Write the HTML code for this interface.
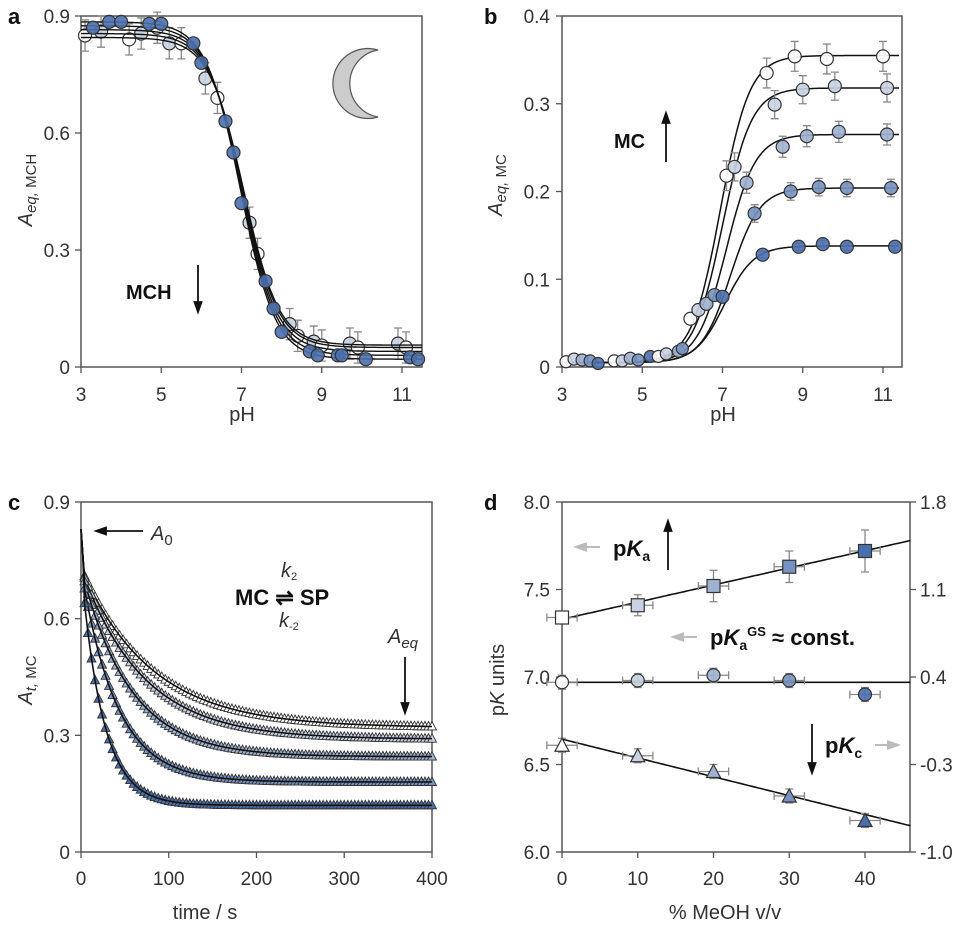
<!DOCTYPE html>
<html><head><meta charset="utf-8">
<style>
body{margin:0;background:#fff;}
svg{display:block;font-family:"Liberation Sans",sans-serif;}
.tk{font-size:19px;fill:#333;}
.lab{font-size:20px;fill:#333;}
.let{font-size:22px;font-weight:bold;fill:#111;}
.bold{font-weight:bold;fill:#111;}
</style></head>
<body>
<svg id="fig" width="968" height="925" viewBox="0 0 968 925"></svg>
<script>
// ---------- data ----------
// panel a
const aBlueX=[3.3,3.7,4.0,4.7,5.0,5.8,6.0,6.6,6.8,7.0,7.6,7.8,8.0,8.7,8.9,9.4,9.5,10.1,11.2,11.4];
const aBlueY=[0.87,0.885,0.885,0.88,0.88,0.83,0.78,0.63,0.55,0.42,0.22,0.15,0.09,0.04,0.03,0.03,0.03,0.02,0.025,0.02];
const aOpenX=[3.1,3.5,4.2,4.5,4.9,5.2,5.5,6.1,6.4,7.2,7.4,8.2,8.4,8.8,9.0,9.7,9.9,10.9,11.1];
const aOpenY=[0.85,0.86,0.84,0.855,0.87,0.83,0.83,0.74,0.69,0.37,0.29,0.11,0.08,0.065,0.055,0.06,0.05,0.06,0.05];
const aFitTop=[0.885,0.875,0.865,0.855,0.845];
const aFitBot=[0.02,0.03,0.04,0.05,0.056];
const aFitPka=[6.98,7.0,7.02,7.04,7.06];
// panel b
const bSeriesX=[[6.2,7.1,8.1,8.8,9.6,11.0],[6.4,7.3,8.3,9.0,9.8,11.1],[6.6,7.6,8.5,9.1,9.9,11.1],[6.8,7.8,8.7,9.4,10.1,11.2],[7.0,8.0,8.9,9.5,10.1,11.3]];
const bSeriesY=[[0.055,0.218,0.335,0.354,0.351,0.354],[0.065,0.228,0.299,0.316,0.32,0.318],[0.072,0.21,0.251,0.263,0.268,0.265],[0.082,0.175,0.2,0.205,0.204,0.204],[0.08,0.128,0.137,0.14,0.137,0.137]];
const bErr=[0.017,0.016,0.012,0.01,0.004];
const bLowX=[3.1,3.3,3.5,3.7,3.9,4.3,4.5,4.7,4.9,5.2,5.4,5.6,5.9,6.0];
const bLowY=[0.006,0.009,0.008,0.007,0.004,0.007,0.007,0.01,0.008,0.012,0.012,0.015,0.018,0.021];
const bFitTop=[0.355,0.318,0.265,0.204,0.138];
const bFitPka=[6.95,7.0,7.1,7.2,7.05];
// panel c
const cA0=[0.83,0.83,0.83,0.83,0.83];
const cAeq=[0.32,0.29,0.245,0.18,0.12];
const cTau=[80,70,55,40,25];
// panel d
const dX=[0,10,20,30,40];
const dPka=[7.34,7.41,7.52,7.63,7.72];
const dPkaErr=[0.03,0.06,0.09,0.09,0.12];
const dPkaGS=[6.97,6.98,7.01,6.98,6.90];
const dPkc=[6.61,6.55,6.46,6.32,6.18];
const dTicksL=["6.0","6.5","7.0","7.5","8.0"];
const dTicksR=["-1.0","-0.3","0.4","1.1","1.8"];

const cols=["#ffffff","#c8d2e2","#9db1d0","#7592c0","#4a6fad"];
const NS="http://www.w3.org/2000/svg";
const svg=document.getElementById('fig');
function el(tag,attrs,parent){const e=document.createElementNS(NS,tag);for(const k in attrs)e.setAttribute(k,attrs[k]);(parent||svg).appendChild(e);return e;}
function lin(d0,d1,r0,r1){return v=>r0+(v-d0)*(r1-r0)/(d1-d0);}

function frame(x0,y0,x1,y1,name){
  const r=el('rect',{x:x0,y:y0,width:x1-x0,height:y1-y0,fill:'none',stroke:'#555','stroke-width':1.5});
  
  
}
function tickText(x,y,t,anchor,name){
  const e=el('text',{x:x,y:y,'text-anchor':anchor,class:'tk'});e.textContent=t;
  
  
}
function tline(x1,y1,x2,y2,c,w,name){
  const l=el('line',{x1:x1,y1:y1,x2:x2,y2:y2,stroke:c,'stroke-width':w});
  
  
  return l;
}
function circ(x,y,r,fill,name){
  const c=el('circle',{cx:x,cy:y,r:r,fill:fill,stroke:'#333','stroke-width':1.2,'fill-opacity':0.9});
  
  
}
function errV(x,y0,y1,name){
  const g=el('path',{d:`M${x},${y0}V${y1}M${x-4},${y0}h8M${x-4},${y1}h8`,stroke:'#888','stroke-width':1.3,fill:'none'});
  
  
}
function errH(y,x0,x1,name){
  const g=el('path',{d:`M${x0},${y}H${x1}M${x0},${y-4}v8M${x1},${y-4}v8`,stroke:'#888','stroke-width':1.3,fill:'none'});
  
  
}
function curve(fn,x0,x1,sx,sy,name,w){
  let d='';for(let i=0;i<=200;i++){const v=x0+(x1-x0)*i/200;d+=(i?'L':'M')+sx(v).toFixed(1)+','+sy(fn(v)).toFixed(1);}
  const p=el('path',{d:d,fill:'none',stroke:'#111','stroke-width':w||1.6});
  
  
}
function txt(x,y,html,cls,size,anchor,name,extra){
  const e=el('text',Object.assign({x:x,y:y,'font-size':size,'text-anchor':anchor||'start',class:cls||''},extra||{}));e.innerHTML=html;
  
  
  return e;
}
function arrow(x1,y1,x2,y2,c,w,name){
  const dx=x2-x1,dy=y2-y1,L=Math.hypot(dx,dy),ux=dx/L,uy=dy/L;
  const hx=x2-ux*10,hy=y2-uy*10;
  const p=el('path',{d:`M${x1},${y1}L${hx},${hy}M${x2},${y2}L${hx-uy*3.5},${hy+ux*3.5}L${hx+uy*3.5},${hy-ux*3.5}Z`,stroke:c,'stroke-width':w,fill:c});
  
  
}

// ---------- panel a ----------
(function(){
  const sx=lin(3,11,81,402), sy=lin(0,0.9,367,16);
  frame(81,16,422,367,'panel-a-plot-area');
  [3,5,7,9,11].forEach(v=>{tline(sx(v),367,sx(v),373,'#555',1.3,'x-tick-a');tickText(sx(v),401,String(v),'middle','x-tick-label-a');});
  [[0,'0'],[0.3,'0.3'],[0.6,'0.6'],[0.9,'0.9']].forEach(t=>{tline(75,sy(t[0]),81,sy(t[0]),'#555',1.3,'y-tick-a');tickText(70,sy(t[0])+7,t[1],'end','y-tick-label-a');});
  aOpenX.forEach((x,i)=>{errV(sx(x),sy(aOpenY[i]+0.04),sy(aOpenY[i]-0.04),'error-bar-a');});
  aOpenX.forEach((x,i)=>circ(sx(x),sy(aOpenY[i]),6.5,i%2?'#c8d2e2':'#ffffff','point-a-open'));
  aFitTop.forEach((t,k)=>curve(v=>aFitBot[k]+(t-aFitBot[k])/(1+Math.pow(10,1.0*(v-aFitPka[k]))),3,11.5,sx,sy,'fit-curve-a',1.4));
  aBlueX.forEach((x,i)=>circ(sx(x),sy(aBlueY[i]),6.5,'#4a6fad','point-a-blue'));
  const m=el('path',{d:'M378,50 A35,35 0 1,0 378,117 A34,34 0 0,1 378,50 Z',fill:'#cccccc',stroke:'#555','stroke-width':1.2});
  
  
  txt(126,299,'MCH','bold',20,'start','mch-label');
  arrow(198,265,198,312,'#111',1.8,'mch-down-arrow');
  txt(242,421,'pH','lab',21,'middle','x-axis-title-a');
  txt(8,24,'a','let',22,'start','panel-letter-a');
  txt(0,0,'<tspan font-style="italic">A</tspan><tspan font-size="15" dy="4" font-style="italic">eq,</tspan><tspan font-size="15"> MCH</tspan>','lab',23,'middle','y-axis-title-a',{transform:'translate(32,190) rotate(-90)'});
})();

// ---------- panel b ----------
(function(){
  const sx=lin(3,11,562,883), sy=lin(0,0.4,367,16);
  frame(562,16,902,367,'panel-b-plot-area');
  [3,5,7,9,11].forEach(v=>{tline(sx(v),367,sx(v),373,'#555',1.3,'x-tick-b');tickText(sx(v),401,String(v),'middle','x-tick-label-b');});
  [[0,'0'],[0.1,'0.1'],[0.2,'0.2'],[0.3,'0.3'],[0.4,'0.4']].forEach(t=>{tline(556,sy(t[0]),562,sy(t[0]),'#555',1.3,'y-tick-b');tickText(550,sy(t[0])+7,t[1],'end','y-tick-label-b');});
  bFitTop.forEach((t,k)=>curve(v=>0.005+(t-0.005)/(1+Math.pow(10,1.2*(bFitPka[k]-v))),3,11.4,sx,sy,'fit-curve-b',1.5));
  bSeriesX.forEach((xs,k)=>xs.forEach((x,i)=>{if(i>0)errV(sx(x),sy(bSeriesY[k][i]+bErr[k]),sy(bSeriesY[k][i]-bErr[k]),'error-bar-b');}));
  bLowX.forEach((x,i)=>circ(sx(x),sy(bLowY[i]),6,cols[i%5],'point-b-low'));
  bSeriesX.forEach((xs,k)=>xs.forEach((x,i)=>circ(sx(x),sy(bSeriesY[k][i]),6.5,cols[k],'point-b-series-'+(k+1))));
  txt(614,148,'MC','bold',20,'start','mc-label');
  arrow(666,162,666,113,'#111',1.8,'mc-up-arrow');
  txt(723,421,'pH','lab',21,'middle','x-axis-title-b');
  txt(484,24,'b','let',22,'start','panel-letter-b');
  txt(0,0,'<tspan font-style="italic">A</tspan><tspan font-size="15" dy="4" font-style="italic">eq,</tspan><tspan font-size="15"> MC</tspan>','lab',23,'middle','y-axis-title-b',{transform:'translate(502,185) rotate(-90)'});
})();

// ---------- panel c ----------
(function(){
  const sx=lin(0,400,81,432), sy=lin(0,0.9,852,502);
  frame(81,502,432,852,'panel-c-plot-area');
  [0,100,200,300,400].forEach(v=>{tline(sx(v),852,sx(v),858,'#555',1.3,'x-tick-c');tickText(sx(v),885,String(v),'middle','x-tick-label-c');});
  [[0,'0'],[0.3,'0.3'],[0.6,'0.6'],[0.9,'0.9']].forEach(t=>{tline(75,sy(t[0]),81,sy(t[0]),'#555',1.3,'y-tick-c');tickText(70,sy(t[0])+7,t[1],'end','y-tick-label-c');});
  for(let k=0;k<5;k++){
    const f=t=>cAeq[k]+(cA0[k]-0.1-cAeq[k])*Math.exp(-t/cTau[k]);
    for(let t=4;t<=400;t+=4){
      const x=sx(t),y=sy(f(t));
      const p=el('path',{d:`M${x},${y-5}L${x+4.5},${y+3.5}L${x-4.5},${y+3.5}Z`,fill:cols[k],stroke:'#333','stroke-width':0.9});
      
      
    }
    curve(t=>t<3?cA0[k]-(0.1*t/3):f(t),0,400,sx,sy,'fit-curve-c',1.6);
  }
  arrow(143,531,96,531,'#111',1.8,'a0-arrow');
  txt(151,540,'<tspan font-style="italic">A</tspan><tspan font-size="15" dy="5">0</tspan>','lab',22,'start','a0-label');
  txt(235,605,'MC ⇌ SP','bold',22,'start','reaction-label');
  txt(281,577,'<tspan font-style="italic">k</tspan><tspan font-size="11" dy="3">2</tspan>','lab',16,'start','k2-label',{fill:'#555'});
  txt(279,627,'<tspan font-style="italic">k</tspan><tspan font-size="11" dy="3">-2</tspan>','lab',16,'start','k-minus-2-label',{fill:'#555'});
  txt(388,643,'<tspan font-style="italic">A</tspan><tspan font-size="15" dy="5" font-style="italic">eq</tspan>','lab',22,'start','aeq-label');
  arrow(405,657,405,713,'#111',1.8,'aeq-arrow');
  txt(205,919,'time / s','lab',21,'middle','x-axis-title-c');
  txt(8,510,'c','let',22,'start','panel-letter-c');
  txt(0,0,'<tspan font-style="italic">A</tspan><tspan font-size="15" dy="4" font-style="italic">t,</tspan><tspan font-size="15"> MC</tspan>','lab',23,'middle','y-axis-title-c',{transform:'translate(32,680) rotate(-90)'});
})();

// ---------- panel d ----------
(function(){
  const sx=lin(0,40,562,865), sy=lin(6,8,852,502);
  frame(562,502,910,852,'panel-d-plot-area');
  dX.forEach(v=>{tline(sx(v),852,sx(v),858,'#555',1.3,'x-tick-d');tickText(sx(v),885,String(v),'middle','x-tick-label-d');});
  dTicksL.forEach((t,i)=>{const y=sy(6+i*0.5);tline(556,y,562,y,'#555',1.3,'y-tick-left-d');tickText(550,y+7,t,'end','y-tick-label-left-d');});
  dTicksR.forEach((t,i)=>{const y=sy(6+i*0.5);tline(910,y,916,y,'#555',1.3,'y-tick-right-d');tickText(920,y+7,t,'start','y-tick-label-right-d');});
  curve(v=>7.33+v*(7.78-7.33)/46,0,46,sx,sy,'pka-fit-line',1.6);
  curve(v=>6.97,0,46,sx,sy,'pkags-fit-line',1.6);
  curve(v=>6.645+v*(6.15-6.645)/46,0,46,sx,sy,'pkc-fit-line',1.6);
  dX.forEach((x,i)=>{
    [dPka[i],dPkaGS[i],dPkc[i]].forEach((y,j)=>{errH(sy(y),sx(x-2),sx(x+2),'x-error-bar-d');});
    errV(sx(x),sy(dPka[i]+dPkaErr[i]),sy(dPka[i]-dPkaErr[i]),'y-error-bar-d');
    errV(sx(x),sy(dPkaGS[i]+0.04),sy(dPkaGS[i]-0.04),'y-error-bar-d');
    errV(sx(x),sy(dPkc[i]+0.04),sy(dPkc[i]-0.04),'y-error-bar-d');
  });
  dX.forEach((x,i)=>{
    const cx=sx(x);let y=sy(dPka[i]);
    const s=el('rect',{x:cx-6.5,y:y-6.5,width:13,height:13,fill:cols[i],stroke:'#333','stroke-width':1.2});
    
    
    circ(cx,sy(dPkaGS[i]),6.5,cols[i],'pkags-point');
    y=sy(dPkc[i]);
    const t=el('path',{d:`M${cx},${y-7}L${cx+7},${y+6}L${cx-7},${y+6}Z`,fill:cols[i],stroke:'#333','stroke-width':1.2});
    
    
  });
  arrow(600,547,576,547,'#bbb',2,'pka-axis-arrow');
  txt(613,556,'p<tspan font-style="italic">K</tspan><tspan font-size="14" dy="5">a</tspan>','bold',22,'start','pka-label');
  arrow(668,570,668,521,'#111',1.8,'pka-up-arrow');
  arrow(697,637,673,637,'#bbb',2,'pkags-axis-arrow');
  txt(710,645,'p<tspan font-style="italic">K</tspan><tspan font-size="14" dy="5">a</tspan><tspan font-size="13" dy="-14">GS</tspan><tspan dy="9"> ≈ const.</tspan>','bold',22,'start','pkags-label');
  arrow(812,724,812,773,'#111',1.8,'pkc-down-arrow');
  txt(825,753,'p<tspan font-style="italic">K</tspan><tspan font-size="14" dy="5">c</tspan>','bold',22,'start','pkc-label');
  arrow(875,745,898,745,'#bbb',2,'pkc-axis-arrow');
  txt(725,919,'% MeOH v/v','lab',21,'middle','x-axis-title-d');
  txt(484,510,'d','let',22,'start','panel-letter-d');
  txt(0,0,'p<tspan font-style="italic">K</tspan> units','lab',22,'middle','y-axis-title-d',{transform:'translate(504,680) rotate(-90)'});
})();
</script>
</body></html>
